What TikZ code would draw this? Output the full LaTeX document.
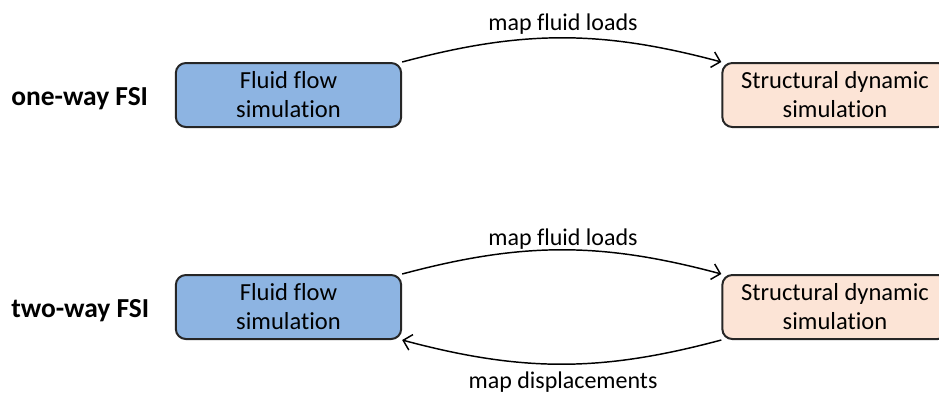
\documentclass[tikz,border=0pt]{standalone}
\usepackage{fontspec}
\setmainfont{Carlito}[Ligatures={NoCommon}]
\usetikzlibrary{arrows.meta}
\definecolor{fluidblue}{HTML}{8DB4E2}
\definecolor{structpeach}{HTML}{FCE4D6}
\definecolor{edgegray}{HTML}{262626}
\begin{document}
\begin{tikzpicture}[x=0.75pt,y=-0.75pt,
  simbox/.style={draw=edgegray, line width=1.5pt, rounded corners=7.5pt,
    minimum width=169pt, minimum height=48pt, inner sep=0pt, align=center,
    font=\fontsize{18.4}{21.75}\selectfont},
  fsilabel/.style={anchor=base west, inner sep=0pt, font=\fontsize{20.6}{24}\selectfont\bfseries},
  maplabel/.style={anchor=base, inner sep=0pt, font=\fontsize{18}{22}\selectfont},
  flow/.style={line width=1.1pt, draw=black, -{Straight Barb[length=6pt,width=12pt]}}
]
\useasboundingbox (0,0) rectangle (939,394);
% one-way
\node[fsilabel] (one) at (11,105) {one-way FSI};
\node[simbox, fill=fluidblue] (fluid1) at (288.5,95) {Fluid flow\\simulation};
\node[simbox, fill=structpeach] (struct1) at (835,95) {Structural dynamic\\simulation};
\draw[flow] (fluid1.north east) to[out=15,in=165] (struct1.north west);
\node[maplabel] (load1) at (563,30) {map fluid loads};
% two-way
\node[fsilabel] (two) at (11,317) {two-way FSI};
\node[simbox, fill=fluidblue] (fluid2) at (288.5,307) {Fluid flow\\simulation};
\node[simbox, fill=structpeach] (struct2) at (835,307) {Structural dynamic\\simulation};
\draw[flow] (fluid2.north east) to[out=15,in=165] (struct2.north west);
\draw[flow] (struct2.south west) to[out=195,in=-15] (fluid2.south east);
\node[maplabel] (load2) at (563,245) {map fluid loads};
\node[maplabel] (disp2) at (563,388) {map displacements};
\end{tikzpicture}
\end{document}
